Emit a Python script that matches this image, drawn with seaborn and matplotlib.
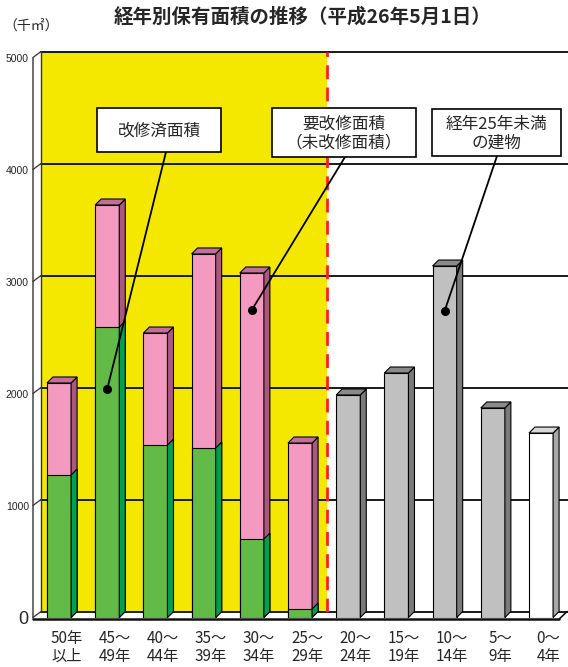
import numpy as np
import pandas as pd
import matplotlib
matplotlib.use("Agg")
import matplotlib.pyplot as plt
import seaborn as sns
from matplotlib.patches import Polygon, Rectangle
from matplotlib.transforms import offset_copy

# ---------------- data ----------------
categories = ["50年\n以上", "45～\n49年", "40～\n44年", "35～\n39年", "30～\n34年",
              "25～\n29年", "20～\n24年", "15～\n19年", "10～\n14年", "5～\n9年", "0～\n4年"]
total_area = [2094, 3683, 2540, 3246, 3076, 1558, 1987, 2183, 3138, 1871, 1647]
renovated_categories = categories[:6]
renovated_area = [1272, 2594, 1540, 1513, 700, 76]
bar_group = ["old"] * 6 + ["new"] * 4 + ["newest"]
yticks = [0, 1000, 2000, 3000, 4000, 5000]
ytick_labels = ["0", "1000", "2000", "3000", "4000", "5000"]
title = "経年別保有面積の推移（平成26年5月1日）"
unit = "（千㎡）"
callouts = [("改修済面積", 1, 2040), ("要改修面積\n（未改修面積）", 4, 2746), ("経年25年未満\nの建物", 8, 2737)]

# ---------------- style ----------------
sns.set_style("white")
plt.rcParams["font.family"] = ["Noto Sans CJK JP", "DejaVu Sans"]

FW, FH = 568, 667
fig = plt.figure(figsize=(FW / 100, FH / 100), dpi=100)
def fpx(x, y):
    return (x / FW, 1 - y / FH)

ax_left, ax_right, ax_bottom, ax_top = 33, 568, 617.5, 46.3
ax = fig.add_axes([ax_left / FW, (FH - ax_bottom) / FH, (ax_right - ax_left) / FW, (ax_bottom - ax_top) / FH])
ax.set_facecolor("white")

face = {"old": "#F49AC1", "new": "#C0C0C0", "newest": "#FFFFFF"}
side = {"old": "#A9587F", "new": "#7A7A7A", "newest": "#A8A8A8"}
top = {"old": "#C2709A", "new": "#8A8A8A", "newest": "#D8D8D8"}
green_face, green_side = "#62BB46", "#00A04E"
yellow = "#F5E800"

df = pd.DataFrame({"cat": categories, "total": total_area, "group": bar_group})
sns.barplot(data=df, x="cat", y="total", hue="cat", palette=[face[g] for g in bar_group],
            legend=False, width=0.5, saturation=1, edgecolor="black", linewidth=0.8,
            ax=ax, zorder=3)
total_patches = list(ax.patches)
df2 = pd.DataFrame({"cat": renovated_categories, "ren": renovated_area})
sns.barplot(data=df2, x="cat", y="ren", color=green_face, width=0.5, saturation=1,
            edgecolor="black", linewidth=0.8, ax=ax, zorder=4)
green_patches = [p for p in ax.patches if p not in total_patches]

x0lim = -0.54
x1lim = x0lim + (ax_right - ax_left) / 48.2
ax.set_xlim(x0lim, x1lim)
ax.set_ylim(0, (ax_bottom - ax_top) / 0.112)

ppx = 48.2
ppy = 0.112
ddx, ddy = 6 / ppx, 6 / ppy      # bar depth
bdx, bdy = 8 / ppx, 6 / ppy      # back wall offset
back = offset_copy(ax.transData, fig=fig, x=8, y=6, units="dots")

# background: yellow area and back wall
split_x = 5.4
ax.add_patch(Rectangle((x0lim, 0), split_x - x0lim, 5000, transform=back,
                       facecolor=yellow, edgecolor="none", zorder=0.5))
for v in yticks:
    ax.plot([x0lim, x1lim], [v, v], transform=back, color="#1a1a1a", lw=1.4, zorder=1)
ax.plot([split_x, split_x], [0, 5000], transform=back, color="#FF1E1E", lw=2,
        dashes=(5, 3), zorder=1.2)
ax.plot([x0lim, x0lim], [0, 5000], transform=back, color="#333333", lw=1, zorder=1, clip_on=False)
ax.plot([x0lim, x0lim], [0, 5000], color="#555555", lw=1.2, zorder=1, clip_on=False)
for v in yticks:
    ax.plot([x0lim, x0lim + bdx], [v, v + bdy], color="#333333", lw=0.9, zorder=1, clip_on=False)
# floor
ax.add_patch(Polygon([(x0lim, 0), (10.25 + ddx, 0), (10.25 + ddx + bdx, bdy), (x0lim + bdx, bdy)],
                     closed=True, facecolor="white", edgecolor="none", zorder=0.8))
ax.plot([x0lim, 10.25 + ddx], [-15, -15], color="#111111", lw=1.8, zorder=2, clip_on=False)
ax.plot([10.25 + ddx, 10.25 + ddx + bdx], [-15, bdy], color="#111111", lw=1.2, zorder=2, clip_on=False)

# 3D faces
for p, g in zip(total_patches, bar_group):
    x0, w, h = p.get_x(), p.get_width(), p.get_height()
    x1 = x0 + w
    ax.add_patch(Polygon([(x1, 0), (x1 + ddx, ddy), (x1 + ddx, h + ddy), (x1, h)], closed=True,
                         facecolor=side[g], edgecolor="black", lw=0.8, zorder=3))
    ax.add_patch(Polygon([(x0, h), (x1, h), (x1 + ddx, h + ddy), (x0 + ddx, h + ddy)], closed=True,
                         facecolor=top[g], edgecolor="black", lw=0.8, zorder=3))
for p in green_patches:
    x0, w, h = p.get_x(), p.get_width(), p.get_height()
    x1 = x0 + w
    ax.add_patch(Polygon([(x1, 0), (x1 + ddx, ddy), (x1 + ddx, h + ddy), (x1, h)], closed=True,
                         facecolor=green_side, edgecolor="black", lw=0.8, zorder=4))

# axes cosmetics
for s in ax.spines.values():
    s.set_visible(False)
ax.set_xlabel("")
ax.set_ylabel("")
ax.set_yticks(yticks)
ax.set_yticklabels(ytick_labels, family=["Liberation Sans", "DejaVu Sans"], fontsize=7.5)
ax.get_yticklabels()[0].set_fontsize(13)
ax.tick_params(axis="y", length=0, pad=3)
ax.set_xticks(np.arange(len(categories)) + 0.15)
ax.set_xticklabels(categories, fontsize=11, linespacing=1.05)
ax.tick_params(axis="x", length=0, pad=9)

# title and unit
fig.text(*fpx(303, 17), title, ha="center", va="center", fontsize=14, fontweight="bold")
fig.text(*fpx(3, 26), unit, ha="left", va="center", fontsize=10)

# callout boxes
boxes = [(97, 108, 221, 152, 166), (272, 108, 416, 157, 345), (432, 109, 561, 156, 497)]
for (txt, bi, bv), (bx0, by0, bx1, by1, lx) in zip(callouts, boxes):
    r = Rectangle(fpx(bx0, by1), (bx1 - bx0) / FW, (by1 - by0) / FH, transform=fig.transFigure,
                  facecolor="white", edgecolor="black", lw=1.2, zorder=5)
    fig.add_artist(r)
    fig.text(*fpx((bx0 + bx1) / 2, (by0 + by1) / 2 + 1), txt, ha="center", va="center",
             fontsize=12, linespacing=1.15, zorder=6)
    ax.annotate("", xy=(bi, bv), xycoords="data", xytext=fpx(lx, by1), textcoords="figure fraction",
                arrowprops=dict(arrowstyle="-", color="black", lw=1.3, shrinkA=0, shrinkB=0),
                zorder=7, annotation_clip=False)
    ax.plot([bi], [bv], "o", color="black", ms=5.5, zorder=8)

fig.savefig("out.png", dpi=100)
